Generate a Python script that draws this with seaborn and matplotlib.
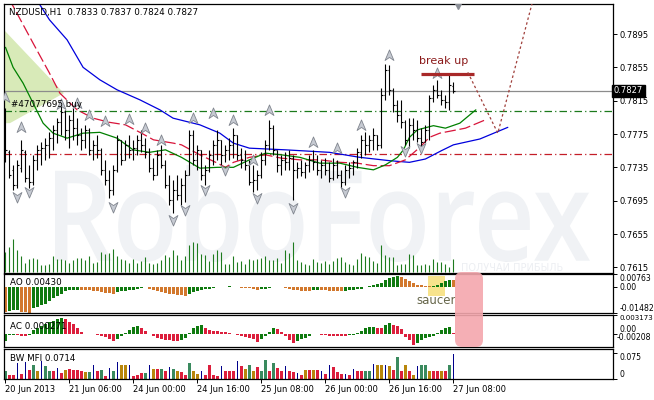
import numpy as np
import matplotlib
matplotlib.use("Agg")
import matplotlib.pyplot as plt
import matplotlib.transforms as mtransforms
from matplotlib.path import Path
from matplotlib.patches import PathPatch, FancyBboxPatch, Rectangle, Polygon
from matplotlib.textpath import TextPath
from matplotlib.font_manager import FontProperties
import seaborn as sns

sns.set_style("white")
plt.rcParams['font.family'] = ['DejaVu Sans']
plt.rcParams['text.color'] = 'black'
plt.rcParams['xtick.color'] = 'black'
plt.rcParams['ytick.color'] = 'black'

# --- NZDUSD H1 bars (20 Jun 2013 14:00 .. 27 Jun 2013 08:00) ---
high = [0.7806, 0.7756, 0.7738, 0.7744, 0.7768, 0.7756, 0.7738, 0.7750, 0.7762, 0.7765,
        0.7770, 0.7777, 0.7786, 0.7794, 0.7810, 0.7804, 0.7798, 0.7806, 0.7794, 0.7782,
        0.7786, 0.7782, 0.7768, 0.7774, 0.7758, 0.7744, 0.7732, 0.7738, 0.7774, 0.7768,
        0.7768, 0.7774, 0.7768, 0.7774, 0.7780, 0.7770, 0.7758, 0.7746, 0.7756, 0.7762,
        0.7744, 0.7726, 0.7720, 0.7726, 0.7722, 0.7732, 0.7780, 0.7780, 0.7762, 0.7756,
        0.7738, 0.7756, 0.7768, 0.7780, 0.7768, 0.7762, 0.7770, 0.7782, 0.7774, 0.7758,
        0.7756, 0.7744, 0.7738, 0.7732, 0.7753, 0.7768, 0.7792, 0.7786, 0.7756, 0.7750,
        0.7753, 0.7756, 0.7750, 0.7741, 0.7744, 0.7741, 0.7750, 0.7756, 0.7750, 0.7744,
        0.7746, 0.7741, 0.7746, 0.7744, 0.7732, 0.7738, 0.7741, 0.7744, 0.7758, 0.7774,
        0.7777, 0.7774, 0.7782, 0.7774, 0.7830, 0.7859, 0.7858, 0.7830, 0.7816, 0.7816,
        0.7792, 0.7794, 0.7794, 0.7792, 0.7782, 0.7786, 0.7822, 0.7834, 0.7840, 0.7828,
        0.7822, 0.7846, 0.7837]
low = [0.7741, 0.7722, 0.7708, 0.7710, 0.7729, 0.7717, 0.7710, 0.7714, 0.7732, 0.7738,
       0.7744, 0.7746, 0.7756, 0.7764, 0.7774, 0.7768, 0.7758, 0.7768, 0.7762, 0.7756,
       0.7758, 0.7750, 0.7744, 0.7746, 0.7726, 0.7714, 0.7698, 0.7702, 0.7729, 0.7738,
       0.7744, 0.7746, 0.7744, 0.7750, 0.7753, 0.7746, 0.7729, 0.7720, 0.7726, 0.7734,
       0.7710, 0.7690, 0.7680, 0.7696, 0.7690, 0.7693, 0.7726, 0.7738, 0.7732, 0.7720,
       0.7714, 0.7729, 0.7738, 0.7744, 0.7738, 0.7741, 0.7744, 0.7746, 0.7744, 0.7734,
       0.7732, 0.7714, 0.7705, 0.7708, 0.7722, 0.7738, 0.7756, 0.7750, 0.7729, 0.7726,
       0.7732, 0.7732, 0.7696, 0.7722, 0.7725, 0.7722, 0.7729, 0.7732, 0.7726, 0.7722,
       0.7726, 0.7717, 0.7720, 0.7722, 0.7710, 0.7714, 0.7722, 0.7726, 0.7734, 0.7746,
       0.7750, 0.7753, 0.7756, 0.7756, 0.7758, 0.7816, 0.7822, 0.7801, 0.7789, 0.7782,
       0.7762, 0.7758, 0.7768, 0.7765, 0.7758, 0.7765, 0.7768, 0.7813, 0.7818, 0.7810,
       0.7806, 0.7804, 0.7824]
open_ = [0.7801, 0.7753, 0.7732, 0.7714, 0.7734, 0.7753, 0.7722, 0.7717, 0.7744, 0.7756,
         0.7758, 0.7762, 0.7770, 0.7780, 0.7789, 0.7801, 0.7780, 0.7792, 0.7782, 0.7774,
         0.7768, 0.7780, 0.7756, 0.7762, 0.7756, 0.7732, 0.7720, 0.7708, 0.7732, 0.7768,
         0.7744, 0.7762, 0.7756, 0.7758, 0.7768, 0.7762, 0.7753, 0.7734, 0.7726, 0.7750,
         0.7738, 0.7714, 0.7696, 0.7708, 0.7702, 0.7714, 0.7726, 0.7774, 0.7744, 0.7756,
         0.7726, 0.7732, 0.7750, 0.7762, 0.7768, 0.7750, 0.7756, 0.7762, 0.7774, 0.7750,
         0.7744, 0.7738, 0.7717, 0.7720, 0.7726, 0.7744, 0.7762, 0.7782, 0.7756, 0.7738,
         0.7744, 0.7741, 0.7746, 0.7732, 0.7734, 0.7729, 0.7738, 0.7744, 0.7741, 0.7732,
         0.7738, 0.7732, 0.7722, 0.7738, 0.7726, 0.7717, 0.7732, 0.7734, 0.7741, 0.7753,
         0.7768, 0.7762, 0.7768, 0.7774, 0.7762, 0.7822, 0.7852, 0.7828, 0.7810, 0.7798,
         0.7789, 0.7768, 0.7786, 0.7780, 0.7770, 0.7765, 0.7780, 0.7818, 0.7828, 0.7822,
         0.7816, 0.7813, 0.7833]
close = [0.7756, 0.7726, 0.7714, 0.7738, 0.7756, 0.7722, 0.7717, 0.7744, 0.7756, 0.7758,
         0.7762, 0.7770, 0.7780, 0.7789, 0.7801, 0.7780, 0.7792, 0.7782, 0.7774, 0.7768,
         0.7780, 0.7756, 0.7762, 0.7756, 0.7732, 0.7720, 0.7708, 0.7732, 0.7768, 0.7744,
         0.7762, 0.7756, 0.7758, 0.7768, 0.7762, 0.7753, 0.7734, 0.7726, 0.7750, 0.7738,
         0.7714, 0.7696, 0.7708, 0.7702, 0.7714, 0.7726, 0.7774, 0.7744, 0.7756, 0.7726,
         0.7732, 0.7750, 0.7762, 0.7768, 0.7750, 0.7756, 0.7762, 0.7774, 0.7750, 0.7744,
         0.7738, 0.7717, 0.7720, 0.7726, 0.7744, 0.7762, 0.7782, 0.7756, 0.7738, 0.7744,
         0.7741, 0.7746, 0.7732, 0.7734, 0.7729, 0.7738, 0.7744, 0.7741, 0.7732, 0.7738,
         0.7732, 0.7722, 0.7738, 0.7726, 0.7717, 0.7732, 0.7734, 0.7741, 0.7753, 0.7768,
         0.7762, 0.7768, 0.7774, 0.7762, 0.7822, 0.7852, 0.7828, 0.7810, 0.7798, 0.7789,
         0.7768, 0.7786, 0.7780, 0.7770, 0.7765, 0.7780, 0.7818, 0.7828, 0.7822, 0.7816,
         0.7813, 0.7834, 0.7827]
volume = [2000, 2500, 3300, 2200, 1600, 900, 1300, 1400, 1300, 700,
          700, 800, 1600, 1300, 1300, 1200, 900, 1200, 1400, 1400,
          1200, 1600, 900, 1000, 2000, 1800, 1900, 2300, 1600, 1300,
          1200, 900, 1300, 900, 1100, 1500, 900, 800, 900, 1200,
          1700, 1500, 2200, 1700, 1200, 1600, 2700, 3000, 2900, 1800,
          1700, 1100, 1800, 2200, 2000, 800, 800, 1600, 1000, 1100,
          800, 1300, 1200, 1300, 1400, 1600, 1200, 1200, 1400, 900,
          2200, 1900, 3000, 1200, 1000, 800, 700, 1300, 1000, 900,
          1100, 800, 1100, 1400, 1500, 1000, 800, 700, 1300, 1900,
          1600, 1500, 1100, 900, 2700, 1700, 1500, 1500, 700, 800,
          800, 1800, 1700, 700, 700, 800, 700, 1300, 1000, 1000,
          800, 500, 1300]

# Alligator lines: (bar position, price)
jaw_x = [7, 8.6, 11, 15.4, 19.4, 23.6, 27.9, 33.6, 38.6, 41.9, 48.6, 53.6, 57, 61, 70, 81,
         88.6, 96, 101, 105, 109, 112, 118.6, 125.6]
jaw_y = [0.7942, 0.7930, 0.7912, 0.7888, 0.7855, 0.7840, 0.7828, 0.7816, 0.7804, 0.7794,
         0.7786, 0.7776, 0.7764, 0.7758, 0.7756, 0.7753, 0.7747, 0.7743, 0.7741, 0.7745,
         0.7755, 0.7762, 0.7769, 0.7783]
teeth_x = [0, 2.4, 6.9, 11, 13.6, 17.9, 21.9, 26, 30, 34, 37, 42, 44, 48.6, 53, 55, 57, 61,
           65, 69, 73.6, 78.6, 83.6, 88, 92, 96, 100, 103.6, 106, 108.6, 115, 120]
teeth_y = [0.7945, 0.7924, 0.7884, 0.7848, 0.7824, 0.7804, 0.7794, 0.7789, 0.7786, 0.7776,
           0.7768, 0.7764, 0.7762, 0.7750, 0.7740, 0.7735, 0.7741, 0.7747, 0.7750, 0.7746,
           0.7744, 0.7744, 0.7741, 0.7740, 0.7737, 0.7737, 0.7744, 0.7759, 0.7771, 0.7776,
           0.7782, 0.7792]
lips_x = [0, 1.9, 4.4, 6.9, 9.4, 11.9, 15.4, 19.4, 23.6, 27.9, 31.9, 36, 40, 44, 48.6, 53,
          57, 61, 65, 69, 73.6, 78.6, 83.6, 88, 92, 95, 98, 99.5, 101, 103, 107, 110, 113.6,
          117.6]
lips_y = [0.7879, 0.7855, 0.7836, 0.7812, 0.7788, 0.7776, 0.7770, 0.7776, 0.7777, 0.7770,
          0.7756, 0.7753, 0.7756, 0.7747, 0.7734, 0.7735, 0.7735, 0.7744, 0.7752, 0.7750,
          0.7747, 0.7740, 0.7740, 0.7735, 0.7732, 0.7738, 0.7747, 0.7756, 0.7771, 0.7780,
          0.7785, 0.7782, 0.7788, 0.7804]

# fractals
frac_up_x = [0, 4, 14, 18, 21, 25, 31, 35, 39, 47, 52, 57, 62, 66, 77, 83, 89, 96, 108]
frac_up_y = [0.7819, 0.7783, 0.7811, 0.7812, 0.7798, 0.7791, 0.7793, 0.7782, 0.7768, 0.7794,
             0.7800, 0.7792, 0.7744, 0.7804, 0.7765, 0.7758, 0.7786, 0.7870, 0.7848]
frac_dn_x = [3, 6, 27, 42, 45, 50, 55, 63, 72, 85, 100, 104]
frac_dn_y = [0.7699, 0.7705, 0.7687, 0.7672, 0.7684, 0.7708, 0.7732, 0.7698, 0.7686, 0.7705,
             0.7755, 0.7758]

# indicators
ao = [-0.01404, -0.01346, -0.01326, -0.01300, -0.01404, -0.01424, -0.01482, -0.01209, -0.01131, -0.01034,
      -0.00936, -0.00780, -0.00644, -0.00527, -0.00371, -0.00234, -0.00176, -0.00156, -0.00137, -0.00156,
      -0.00176, -0.00185, -0.00195, -0.00234, -0.00273, -0.00312, -0.00351, -0.00371, -0.00293, -0.00234,
      -0.00215, -0.00176, -0.00137, -0.00098, -0.00059, 0.00020, -0.00078, -0.00137, -0.00195, -0.00273,
      -0.00332, -0.00371, -0.00410, -0.00429, -0.00468, -0.00488, -0.00371, -0.00273, -0.00195, -0.00156,
      -0.00117, -0.00078, -0.00039, 0.00000, 0.00020, 0.00039, 0.00078, 0.00039, 0.00000, -0.00020,
      -0.00039, -0.00059, -0.00117, -0.00156, -0.00117, -0.00078, -0.00020, 0.00020, 0.00039, 0.00020,
      -0.00020, -0.00098, -0.00156, -0.00176, -0.00195, -0.00200, -0.00215, -0.00176, -0.00137, -0.00156,
      -0.00176, -0.00195, -0.00200, -0.00215, -0.00220, -0.00195, -0.00176, -0.00137, -0.00117, -0.00078,
      0.00000, 0.00059, 0.00117, 0.00176, 0.00254, 0.00390, 0.00507, 0.00585, 0.00624, 0.00585,
      0.00468, 0.00351, 0.00234, 0.00156, 0.00117, 0.00078, 0.00059, 0.00098, 0.00156, 0.00254,
      0.00351, 0.00445, 0.00430]
ac = [-0.00109, -0.00011, -0.00005, -0.00016, -0.00020, -0.00022, -0.00005, 0.00071, 0.00098, 0.00137,
      0.00164, 0.00197, 0.00219, 0.00246, 0.00263, 0.00255, 0.00208, 0.00164, 0.00109, 0.00044,
      0.00011, 0.00005, 0.00000, -0.00011, -0.00022, -0.00038, -0.00077, -0.00109, -0.00077, -0.00022,
      0.00016, 0.00071, 0.00120, 0.00137, 0.00098, 0.00055, 0.00011, -0.00022, -0.00055, -0.00077,
      -0.00088, -0.00098, -0.00109, -0.00115, -0.00093, -0.00055, 0.00016, 0.00098, 0.00137, 0.00145,
      0.00098, 0.00066, 0.00055, 0.00050, 0.00044, 0.00033, 0.00016, 0.00005, -0.00011, -0.00022,
      -0.00038, -0.00055, -0.00077, -0.00120, -0.00077, -0.00022, 0.00044, 0.00109, 0.00088, 0.00044,
      -0.00027, -0.00093, -0.00148, -0.00109, -0.00077, -0.00055, -0.00033, 0.00011, 0.00000, -0.00005,
      -0.00011, -0.00022, -0.00027, -0.00030, -0.00033, -0.00035, -0.00016, -0.00011, 0.00016, 0.00055,
      0.00098, 0.00120, 0.00126, 0.00109, 0.00098, 0.00153, 0.00181, 0.00153, 0.00137, 0.00088,
      -0.00038, -0.00093, -0.00175, -0.00148, -0.00093, -0.00066, -0.00038, -0.00022, 0.00016, 0.00071,
      0.00109, 0.00115, 0.00027]
bw_mfi = [0.0216, 0.0122, 0.0122, 0.0451, 0.0141, 0.0470, 0.0263, 0.0404, 0.0216, 0.0498,
          0.0357, 0.0216, 0.0216, 0.0310, 0.0169, 0.0263, 0.0282, 0.0263, 0.0263, 0.0216,
          0.0188, 0.0197, 0.0404, 0.0216, 0.0263, 0.0075, 0.0310, 0.0216, 0.0470, 0.0385,
          0.0385, 0.0404, 0.0094, 0.0103, 0.0160, 0.0160, 0.0404, 0.0291, 0.0282, 0.0291,
          0.0235, 0.0329, 0.0291, 0.0235, 0.0188, 0.0122, 0.0461, 0.0235, 0.0150, 0.0235,
          0.0122, 0.0404, 0.0122, 0.0075, 0.0357, 0.0216, 0.0216, 0.0216, 0.0498, 0.0357,
          0.0282, 0.0404, 0.0235, 0.0329, 0.0216, 0.0545, 0.0235, 0.0451, 0.0310, 0.0235,
          0.0357, 0.0216, 0.0197, 0.0169, 0.0122, 0.0244, 0.0244, 0.0244, 0.0244, 0.0216,
          0.0141, 0.0385, 0.0329, 0.0197, 0.0141, 0.0141, 0.0122, 0.0291, 0.0235, 0.0216,
          0.0235, 0.0235, 0.0432, 0.0404, 0.0404, 0.0404, 0.0357, 0.0263, 0.0611, 0.0216,
          0.0404, 0.0216, 0.0103, 0.0357, 0.0385, 0.0385, 0.0216, 0.0235, 0.0235, 0.0235,
          0.0235, 0.0404, 0.0714]
# g = green, o = fade (brown), r = squat (red), b = fake (blue)
bw_kind = list("grrbrbrgob" "ggrbrorrrr" "ogbrgrbgbo" "obrrrgborg" "rbgorrgoob"
               "rrrrbrrrbr" "ogorggrgrr" "brrbrororb" "rbrrrbrbrr" "ggbooborgr"
               "orobggorro" "rgb")

price_ticks = [0.7895, 0.7855, 0.7815, 0.7775, 0.7735, 0.7695, 0.7655, 0.7615]
date_ticks = [0, 16, 32, 48, 64, 80, 96, 112]
date_labels = ['20 Jun 2013', '21 Jun 06:00', '24 Jun 00:00', '24 Jun 16:00',
               '25 Jun 08:00', '26 Jun 00:00', '26 Jun 16:00', '27 Jun 08:00']
order_level = 0.7803
stop_level = 0.7751
last_price = 0.7827

# annotations drawn by the analyst
shade_x = [-0.4, 14.6, 1.1, -0.4]
shade_y = [0.7900, 0.7824, 0.7788, 0.7788]
breakup_x = [103.9, 117.1]
breakup_y = [0.7847, 0.7847]
forecast_x = [115.6, 123.1, 132.4]
forecast_y = [0.7849, 0.7776, 0.7945]

bars = np.arange(len(high))

W, H = 654, 400
fig = plt.figure(figsize=(W / 100, H / 100), dpi=100, facecolor='white')


def box(x0, y0, x1, y1):
    # pixel box (top-left origin) -> figure fraction rect
    return [x0 / W, 1 - y1 / H, (x1 - x0) / W, (y1 - y0) / H]


ax = fig.add_axes(box(4, 4, 613, 273))
ax_ao = fig.add_axes(box(4, 274, 613, 313), sharex=ax)
ax_ac = fig.add_axes(box(4, 315, 613, 347), sharex=ax)
ax_bw = fig.add_axes(box(4, 349, 613, 379), sharex=ax)

# volumes sit on their own hidden scale under the price bars
ax_vol = ax.twinx()
ax_vol.vlines(bars, 0, volume, color='#1e7b1e', lw=0.8)
ax_vol.set_ylim(-130, 26770)
ax_vol.axis('off')

for a in (ax, ax_ao, ax_ac, ax_bw):
    for s in a.spines.values():
        s.set_color('black')
        s.set_linewidth(0.9)
    a.yaxis.tick_right()
    a.tick_params(axis='y', left=False, labelleft=False, right=True, labelright=True,
                  length=3, width=0.7, labelsize=6, pad=2, direction='out')
    a.tick_params(axis='x', bottom=False, labelbottom=False)
for a in (ax_ao, ax_ac, ax_bw):
    a.tick_params(axis='y', labelsize=5.6, pad=1.5)
ax.set_xlim(-0.375, 151.9)

# watermark
fp = FontProperties(family='Open Sans', weight='semibold')
tp = TextPath((0, 0), 'RoboForex', size=100, prop=fp)
bb = tp.get_extents()
wm = (mtransforms.Affine2D().translate(-bb.x0, -bb.y0)
      .scale(5.35 / bb.width, 0.97 / bb.height).translate(0.55, 1.38) + fig.dpi_scale_trans)
ax.add_patch(PathPatch(tp, transform=wm, fc='#f0f2f5', ec='none', zorder=0.3))
ax.text(0.75, 0.02, 'ПОЛУЧАЙ ПРИБЫЛЬ', transform=ax.transAxes, fontsize=7,
        color='#eceef2', va='center', zorder=0.3)

# main price panel
ax.add_patch(Polygon(list(zip(shade_x, shade_y)), closed=True, fc='#d8eab8', ec='none', zorder=0.6))
ax.axhline(order_level, color='#1c7a1c', lw=0.9, ls=(0, (6, 2.5, 1, 2.5)), zorder=1)
ax.axhline(stop_level, color='#c41e28', lw=0.9, ls=(0, (6, 2.5, 1, 2.5)), zorder=1)
ax.axhline(last_price, color='#8c8c8c', lw=0.9, zorder=1)

ax.vlines(bars, low, high, color='black', lw=0.8, zorder=3)
ax.hlines(open_, bars - 0.45, bars, color='black', lw=0.8, zorder=3)
ax.hlines(close, bars, bars + 0.45, color='black', lw=0.8, zorder=3)

sns.lineplot(x=jaw_x, y=jaw_y, ax=ax, color='#0000dd', lw=0.9, sort=False, estimator=None, zorder=2)
sns.lineplot(x=teeth_x, y=teeth_y, ax=ax, color='#d8143a', lw=0.9, sort=False, estimator=None,
             linestyle=(0, (9, 3)), zorder=2)
sns.lineplot(x=lips_x, y=lips_y, ax=ax, color='#008000', lw=0.9, sort=False, estimator=None, zorder=2)

up_arrow = Path([(0, 1), (0.8, -0.9), (0, -0.35), (-0.8, -0.9), (0, 1)],
                [Path.MOVETO, Path.LINETO, Path.LINETO, Path.LINETO, Path.CLOSEPOLY])
dn_arrow = Path([(0, -1), (0.8, 0.9), (0, 0.35), (-0.8, 0.9), (0, -1)],
                [Path.MOVETO, Path.LINETO, Path.LINETO, Path.LINETO, Path.CLOSEPOLY])
ax.plot(frac_up_x, frac_up_y, ls='none', marker=up_arrow, ms=8, mfc='#c6cad2', mec='#80858e',
        mew=0.6, zorder=4)
ax.plot(frac_dn_x, frac_dn_y, ls='none', marker=dn_arrow, ms=8, mfc='#c6cad2', mec='#80858e',
        mew=0.6, zorder=4)

ax.plot(breakup_x, breakup_y, color='#a82828', lw=2.3, solid_capstyle='butt', zorder=5)
ax.text(109.6, 0.78626, 'break up', color='#8b1a1a', fontsize=8, ha='center', va='center', zorder=5)
ax.plot(forecast_x, forecast_y, color='#a0403c', lw=0.9, ls=(0, (2, 2)), zorder=5)
ax.plot([113.1], [0.79286], marker='v', ms=5, color='#8a8e96', ls='none', zorder=5)

ax.text(0.008, 0.967, 'NZDUSD,H1  0.7833 0.7837 0.7824 0.7827', transform=ax.transAxes,
        fontsize=6.3, va='center', zorder=6)
ax.text(1.4, 0.7811, '#47077695 buy', fontsize=6.3, va='center', zorder=6)

ax.set_ylim(0.76082, 0.7931)
ax.set_yticks(price_ticks)
ax.set_yticklabels([f'{v:.4f}' for v in price_ticks])
ax.text(1.0016, last_price, f'{last_price:.4f}', transform=ax.get_yaxis_transform(),
        color='white', fontsize=6, va='center', ha='left', zorder=6,
        bbox=dict(boxstyle='square,pad=0.2', fc='black', ec='black'))

# AO panel
green, orange, red = '#0f7a0f', '#d2782d', '#dc1e3c'
ao_cols = [orange] + [green if ao[i] > ao[i - 1] else orange for i in range(1, len(ao))]
ax_ao.add_patch(Rectangle((105.6, -0.0050), 4.3, 0.0116, fc='#f7e38c', ec='none', zorder=0.5))
ax_ao.bar(bars, ao, width=0.8, color=ao_cols, linewidth=0, zorder=2)
ax_ao.set_ylim(-0.01482, 0.00763)
ax_ao.set_yticks([0.00763, 0.0, -0.01482])
ax_ao.set_yticklabels(['0.00763', '0.00', '-0.01482'])
for t, va in zip(ax_ao.get_yticklabels(), ['top', 'center', 'bottom']):
    t.set_verticalalignment(va)
ax_ao.text(0.01, 0.77, 'AO 0.00430', transform=ax_ao.transAxes, fontsize=6.3, va='center', zorder=6)
ax_ao.text(107.8, -0.0077, 'saucer', color='#66664a', fontsize=8.5, ha='center', va='center', zorder=6)

# AC panel
ac_cols = [green] + [green if ac[i] > ac[i - 1] else red for i in range(1, len(ac))]
ax_ac.bar(bars, ac, width=0.8, color=ac_cols, linewidth=0, zorder=2)
ax_ac.set_ylim(-0.00208, 0.003173)
ax_ac.set_yticks([0.003173, 0.0])
ax_ac.set_yticklabels(['0.003173', '0.00'])
for t, va in zip(ax_ac.get_yticklabels(), ['top', 'bottom']):
    t.set_verticalalignment(va)
ax_ac.get_yticklabels()[0].set_fontsize(5.1)
ax_ac.text(1.0065, 0.30, '-0.00208', transform=ax_ac.transAxes, fontsize=5.6, va='center')
ax_ac.text(0.01, 0.656, 'AC 0.000271', transform=ax_ac.transAxes, fontsize=6.3, va='center', zorder=6)

# BW MFI panel
bw_colors = {'g': '#3a8a5e', 'o': '#b8860b', 'r': '#dc1e3c', 'b': '#00008b'}
kinds = np.array(bw_kind)
vals = np.array(bw_mfi)
for k, c in bw_colors.items():
    m = kinds == k
    ax_bw.bar(bars[m], vals[m], width=0.3 if k == 'b' else 0.8, color=c, linewidth=0, zorder=2)
ax_bw.set_ylim(0, 0.085)
ax_bw.set_yticks([0.075, 0.0])
ax_bw.set_yticklabels(['0.075', '0'])
for t, va in zip(ax_bw.get_yticklabels(), ['top', 'bottom']):
    t.set_verticalalignment(va)
ax_bw.text(0.01, 0.667, 'BW MFI 0.0714', transform=ax_bw.transAxes, fontsize=6.3, va='center', zorder=6)

ax_bw.tick_params(axis='x', bottom=True, labelbottom=True, length=3, width=0.7,
                  labelsize=6, pad=1.5, direction='out')
ax_bw.set_xticks(date_ticks)
ax_bw.set_xticklabels(date_labels, ha='left')

# highlight over AO/AC
fig.add_artist(FancyBboxPatch((4.55, 0.53), 0.28, 0.75, boxstyle='round,pad=0,rounding_size=0.07',
                              transform=fig.dpi_scale_trans, fc='#f4a7ad', ec='none', alpha=0.9,
                              zorder=10))

fig.savefig('out.png', dpi=100, facecolor='white')
